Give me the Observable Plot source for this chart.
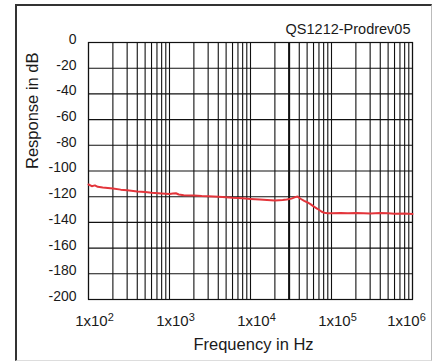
<!DOCTYPE html>
<html><head><meta charset="utf-8">
<script src="https://cdn.jsdelivr.net/npm/d3@7"></script>
<script src="https://cdn.jsdelivr.net/npm/@observablehq/plot@0.6"></script>
<style>
body{margin:0;background:#fff;}
#wrap{position:relative;width:435px;height:362px;}
#border{position:absolute;left:15px;top:4px;width:414px;height:354px;border-left:2px solid #333;border-top:2px solid #333;border-right:1px solid #bbb;border-bottom:1px solid #ddd;pointer-events:none;}
</style></head><body>
<div id="wrap"><div id="border"></div></div>
<script>
const frequencies = [100, 110, 120, 130, 150, 200, 250, 300, 400, 500, 600, 800, 1000, 1100, 1200, 1300, 1500, 2000, 2500, 3000, 4000, 5000, 6000, 8000, 10000, 13000, 16000, 20000, 25000, 28000, 32000, 35000, 38000, 42000, 46000, 50000, 55000, 60000, 67000, 75000, 81000, 90000, 100000, 130000, 160000, 200000, 250000, 300000, 400000, 500000, 600000, 800000, 1000000];
const responseDb = [-110.5, -111.8, -111.2, -112.3, -112.8, -113.6, -114.5, -115.0, -115.9, -116.4, -116.9, -117.5, -117.9, -117.6, -117.3, -118.3, -118.8, -119.0, -119.5, -119.7, -120.1, -120.4, -120.8, -121.2, -121.7, -122.2, -122.6, -123.0, -122.6, -122.2, -121.5, -120.5, -119.9, -121.8, -123.3, -124.3, -125.8, -127.5, -129.4, -131.5, -132.5, -132.8, -132.9, -132.7, -132.9, -132.6, -132.8, -133.0, -132.6, -132.9, -133.2, -133.1, -133.4];
const yTicks = [0, -20, -40, -60, -80, -100, -120, -140, -160, -180, -200];
const xDecades = [1e2, 1e3, 1e4, 1e5, 1e6];
const xTickBase = "1x10";
const xTickExponents = ["2", "3", "4", "5", "6"];
const gridMultipliers = [1, 2, 3, 4, 5, 6, 7, 8, 9];
const boldGridFreq = [30000];
const chartTitle = "QS1212-Prodrev05";
const xLabel = "Frequency in Hz";
const yLabel = "Response in dB";

const data = frequencies.map((f, i) => ({f, db: responseDb[i]}));
const gridFreqs = xDecades.slice(0, -1).flatMap(d => gridMultipliers.map(m => d * m)).concat([xDecades[xDecades.length - 1]]);
const labelRows = xDecades.map((d, i) => ({d, t: xTickBase + "^" + xTickExponents[i]}));
const ink = "#1a1a1a";

const chart = Plot.plot({
  width: 435,
  height: 362,
  marginLeft: 88,
  marginRight: 23,
  marginTop: 42,
  marginBottom: 63,
  style: {fontFamily: "'Liberation Sans', Arial, sans-serif", background: "transparent", color: ink},
  x: {type: "log", domain: [100, 1e6], axis: null},
  y: {domain: [-200, 0], axis: null},
  marks: [
    Plot.ruleY(yTicks, {y: d => d, stroke: "#111", strokeWidth: 1.1}),
    Plot.ruleX(gridFreqs, {x: d => d, stroke: "#111", strokeWidth: 1.1}),
    Plot.ruleX(boldGridFreq, {x: d => d, stroke: "#111", strokeWidth: 2}),
    Plot.frame({stroke: "#111", strokeWidth: 1.2}),
    Plot.line(data, {x: "f", y: "db", stroke: "#e3353b", strokeWidth: 2}),
    Plot.axisY(yTicks, {tickSize: 0, tickPadding: 12, fontSize: 14, dy: -3, tickFormat: d => String(d), label: null, fill: ink}),
    Plot.text(labelRows.slice(0, 4), {x: "d", text: "t", frameAnchor: "bottom", lineAnchor: "bottom", dy: 26, dx: 6, fontSize: 15, fill: ink}),
    Plot.text(labelRows.slice(4), {x: "d", text: "t", frameAnchor: "bottom", lineAnchor: "bottom", dy: 26, dx: -6, fontSize: 15, fill: ink}),
    Plot.text([chartTitle], {text: d => d, frameAnchor: "top-right", textAnchor: "end", lineAnchor: "bottom", dy: -9, dx: -2, fontSize: 14.5, fill: ink}),
    Plot.text([yLabel], {text: d => d, frameAnchor: "left", rotate: -90, lineAnchor: "middle", dx: -56, dy: -2, fontSize: 16.5, fill: ink}),
    Plot.text([xLabel], {text: d => d, frameAnchor: "bottom", lineAnchor: "bottom", dy: 50, dx: 3, fontSize: 16.5, fill: ink})
  ]
});
// turn "base^exp" tick labels into real superscripts
d3.select(chart).selectAll("text").each(function() {
  const s = this.textContent;
  const m = /^(.*)\^(.+)$/.exec(s);
  if (!m) return;
  const t = d3.select(this);
  t.text(null);
  t.append("tspan").text(m[1]);
  t.append("tspan").attr("dy", "-0.42em").attr("font-size", "11px").text(m[2]);
});
document.getElementById("wrap").insertBefore(chart, document.getElementById("border"));
</script>
</body></html>
